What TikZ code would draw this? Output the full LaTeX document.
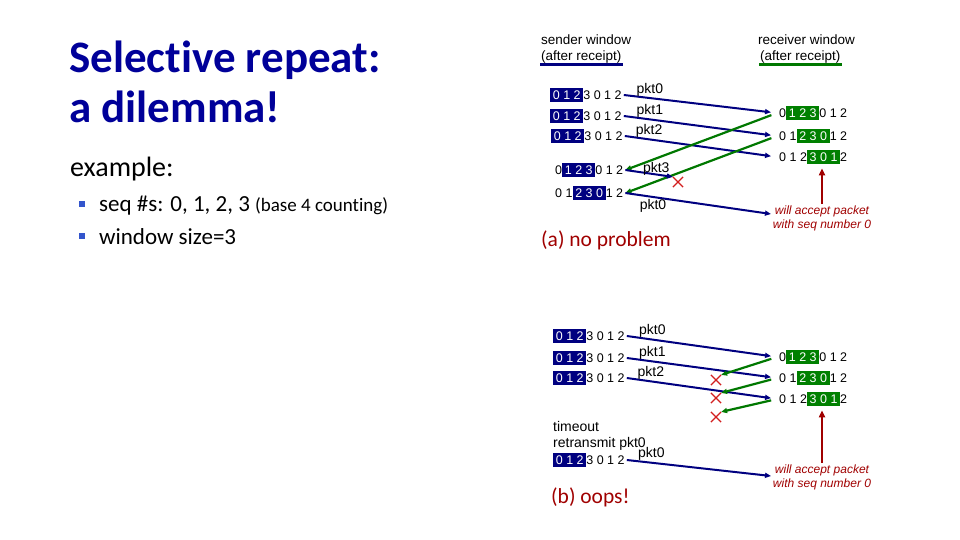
\documentclass[tikz,border=0pt]{standalone}
\usepackage{fontspec}
\setmainfont{Carlito}[Ligatures=NoCommon]
\newfontfamily\diagfont{Liberation Sans}
\usepackage{tikz}
\usetikzlibrary{arrows.meta, positioning, shapes.misc}
\definecolor{navy}{RGB}{0,0,128}
\definecolor{ttlblue}{RGB}{0,0,153}
\definecolor{bulblue}{RGB}{51,85,204}
\definecolor{ackgreen}{RGB}{0,120,0}
\definecolor{boxgreen}{RGB}{0,128,0}
\definecolor{lossred}{RGB}{210,30,30}
\definecolor{darkred}{RGB}{160,0,0}
% highlighted part of a window row
\newcommand{\sndwin}[1]{{\setlength{\fboxsep}{2.7pt}\colorbox{navy}{\textcolor{white}{#1}}}}
\newcommand{\rcvwin}[1]{{\setlength{\fboxsep}{2.7pt}\colorbox{boxgreen}{\textcolor{white}{#1}}}}
\tikzset{
  winrow/.style ={anchor=west, inner sep=2pt, font=\diagfont\fontsize{12.5}{14}\selectfont},
  hdr/.style    ={anchor=west, inner sep=1pt, font=\diagfont\fontsize{13.5}{16}\selectfont},
  pktlbl/.style ={inner sep=1pt, font=\diagfont\fontsize{14}{16}\selectfont},
  acctxt/.style ={align=center, inner sep=1pt, text=darkred,
                  font=\diagfont\itshape\fontsize{12}{14}\selectfont},
  caseh/.style  ={anchor=west, inner sep=0pt, text=darkred, font=\fontsize{21.5}{24}\selectfont},
  sndar/.style  ={-{Triangle[length=6pt,width=5pt]}, draw=navy, line width=2pt},
  ackar/.style  ={-{Triangle[length=6pt,width=5pt]}, draw=ackgreen, line width=2.2pt},
  accar/.style  ={-{Triangle[length=7pt,width=6pt]}, draw=darkred, line width=2pt},
  lossx/.style  ={cross out, draw=lossred, line width=1.2pt, minimum size=9pt, inner sep=0pt},
  bulsq/.style  ={rectangle, fill=bulblue, minimum size=6pt, inner sep=0pt},
}
\begin{document}
\begin{tikzpicture}[x=1pt, y=-1pt]
\useasboundingbox (0,0) rectangle (960,540);

% title and left text
\node[anchor=base west, inner sep=0pt, text=ttlblue, align=left,
      font=\bfseries\fontsize{45}{50}\selectfont] (title) at (69,123)
  {Selective repeat:\\a dilemma!};
\node[anchor=base west, inner sep=0pt, font=\fontsize{28}{32}\selectfont] (ex) at (70,177) {example:};
\node[bulsq] (bul1) at (82,204) {};
\node[bulsq] (bul2) at (82,236) {};
\node[anchor=base west, inner sep=0pt, font=\fontsize{23}{26}\selectfont] (seq) at (99,211)
  {seq \#s: 0, 1, 2, 3 {\fontsize{19}{22}\selectfont(base 4 counting)}};
\node[anchor=base west, inner sep=0pt, font=\fontsize{23}{26}\selectfont] (wsz) at (99,244) {window size=3};

% headers
\node[hdr] (sh1) at (540,40) {sender window};
\node[hdr] (sh2) at (540,57) {(after receipt)};
\node[hdr] (rh1) at (757,40) {receiver window};
\node[hdr] (rh2) at (759,57) {(after receipt)};
\draw[navy, line width=3pt] (sh2.south west) -- (sh2.south east);
\draw[ackgreen, line width=3pt] (rh2.south west) -- (rh2.south east);

% (a) no problem
\node[winrow] (s1) at (548,95)  {\sndwin{0 1 2}3 0 1 2};
\node[winrow] (s2) at (548,116) {\sndwin{0 1 2}3 0 1 2};
\node[winrow] (s3) at (549,136) {\sndwin{0 1 2}3 0 1 2};
\node[winrow] (s4) at (553,170) {0\sndwin{1 2 3}0 1 2};
\node[winrow] (s5) at (553,193) {0 1\sndwin{2 3 0}1 2};
\node[winrow] (r1) at (777,113) {0\rcvwin{1 2 3}0 1 2};
\node[winrow] (r2) at (777,136) {0 1\rcvwin{2 3 0}1 2};
\node[winrow] (r3) at (777,157) {0 1 2\rcvwin{3 0 1}2};
\node[lossx] (xa) at (678,182) {};

\draw[sndar, shorten >=6pt] (s1.east) -- node[pktlbl, pos=0.17, above] {pkt0} (r1.west);
\draw[sndar, shorten >=6pt] (s2.east) -- node[pktlbl, pos=0.17, above] {pkt1} (r2.west);
\draw[sndar, shorten >=6pt] (s3.east) -- node[pktlbl, pos=0.16, above] {pkt2} (r3.west);
\draw[ackar, shorten <=6pt] (r1.west) -- (s4.east);
\draw[ackar, shorten <=6pt] (r2.west) -- (s5.east);
\draw[sndar] (s4.east) -- node[pktlbl, pos=0.65, above, yshift=-3pt] {pkt3} (xa.north west);
\coordinate (ra) at (771,214);
\draw[sndar] (s5.east) -- node[pktlbl, pos=0.19, below] {pkt0} (ra);

\node[acctxt] (acca) at (822,218) {will accept packet\\with seq number 0};
\draw[accar, shorten >=2pt] (acca.north) -- (acca.north |- r3.south);
\node[caseh] (capa) at (541,240) {(a) no problem};

% (b) oops!
\node[winrow] (b1) at (551,336) {\sndwin{0 1 2}3 0 1 2};
\node[winrow] (b2) at (551,358) {\sndwin{0 1 2}3 0 1 2};
\node[winrow] (b3) at (551,378) {\sndwin{0 1 2}3 0 1 2};
\node[winrow] (c1) at (777,357) {0\rcvwin{1 2 3}0 1 2};
\node[winrow] (c2) at (777,378) {0 1\rcvwin{2 3 0}1 2};
\node[winrow] (c3) at (777,399) {0 1 2\rcvwin{3 0 1}2};
\node[lossx] (xb1) at (716,380) {};
\node[lossx] (xb2) at (716,398) {};
\node[lossx] (xb3) at (716,417) {};

\draw[sndar, shorten >=6pt] (b1.east) -- node[pktlbl, pos=0.17, above] {pkt0} (c1.west);
\draw[sndar, shorten >=6pt] (b2.east) -- node[pktlbl, pos=0.17, above] {pkt1} (c2.west);
\draw[sndar, shorten >=6pt] (b3.east) -- node[pktlbl, pos=0.16, above] {pkt2} (c3.west);
\draw[ackar, shorten <=6pt] (c1.west) -- (xb1.north east);
\draw[ackar, shorten <=6pt] (c2.west) -- (xb2.north east);
\draw[ackar, shorten <=6pt] (c3.west) -- (xb3.north east);

\node[anchor=west, align=left, inner sep=1pt, font=\diagfont\fontsize{14}{15.5}\selectfont] (tmo) at (552,436)
  {timeout\\retransmit pkt0};
\node[winrow] (b4) at (551,460) {\sndwin{0 1 2}3 0 1 2};
\coordinate (rb) at (771,476);
\draw[sndar] (b4.east) -- node[pktlbl, pos=0.17, above] {pkt0} (rb);

\node[acctxt] (accb) at (822,477) {will accept packet\\with seq number 0};
\draw[accar, shorten >=2pt] (accb.north) -- (accb.north |- c3.south);
\node[caseh] (capb) at (551,497) {(b) oops!};
\end{tikzpicture}
\end{document}
